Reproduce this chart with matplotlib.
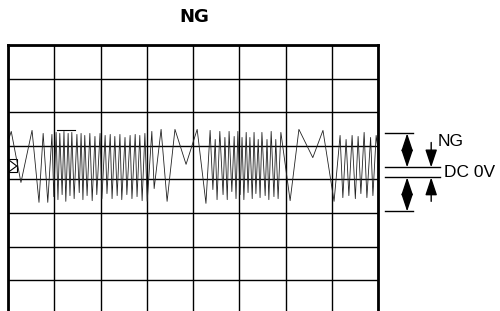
import matplotlib
matplotlib.use('Agg')
import matplotlib.pyplot as plt
from matplotlib.patches import Rectangle

# trace, in grid divisions (x: 0..8, y: -4..4, 0 = centre line)
trace_x = [0.00, 0.07, 0.28, 0.52, 0.67, 0.76, 0.86, 0.95,
           0.99, 1.04, 1.08, 1.12, 1.17, 1.21, 1.25, 1.30, 1.34, 1.38, 1.43, 1.49,
           1.54, 1.58, 1.62, 1.66, 1.71, 1.77, 1.82, 1.88, 1.92, 1.99, 2.03, 2.10,
           2.14, 2.21, 2.25, 2.31, 2.36, 2.42, 2.46, 2.53, 2.57, 2.64, 2.68, 2.75,
           2.79, 2.85, 2.90, 2.96, 3.01, 3.11, 3.16, 3.31, 3.44, 3.61, 3.85, 4.09,
           4.28, 4.37, 4.43, 4.48, 4.52, 4.58, 4.65, 4.69, 4.74, 4.78, 4.84, 4.89,
           4.93, 4.97, 5.02, 5.06, 5.10, 5.15, 5.19, 5.23, 5.28, 5.32, 5.36, 5.41,
           5.45, 5.49, 5.56, 5.60, 5.64, 5.69, 5.75, 5.79, 5.84, 5.90, 6.10,
           6.29, 6.59, 6.81, 7.05, 7.18, 7.24, 7.31, 7.37, 7.44, 7.51, 7.57, 7.63,
           7.70, 7.76, 7.84, 7.89, 7.96, 8.00]
trace_y = [1.13, 1.43, -0.09, 1.46, -0.68, 1.37, -0.68, 1.34,
           -0.51, 1.40, -0.60, 1.37, -0.45, 1.43, -0.65, 1.37, -0.48, 1.40, -0.57, 1.34,
           -0.39, 1.37, -0.60, 1.31, -0.48, 1.37, -0.63, 1.28, -0.45, 1.37, -0.57, 1.31,
           -0.42, 1.34, -0.57, 1.28, -0.48, 1.34, -0.60, 1.25, -0.45, 1.31, -0.57, 1.34,
           -0.51, 1.31, -0.63, 1.37, -0.65, 1.43, -0.27, 1.49, -0.65, 1.49, 0.45, 1.49,
           -0.71, 1.46, -0.30, 1.19, -0.60, 1.43, -0.45, 1.25, -0.60, 1.43, -0.36, 1.28,
           -0.57, 1.43, -0.45, 1.25, -0.60, 1.40, -0.39, 1.25, -0.57, 1.40, -0.42, 1.19,
           -0.54, 1.40, -0.48, 1.19, -0.60, 1.43, -0.51, 1.19, -0.57, 1.40, -0.63,
           1.49, 0.65, 1.46, -0.65, 1.31, -0.54, 1.19, -0.48, 1.31, -0.57, 1.28, -0.42,
           1.40, -0.54, 1.25, -0.48, 1.31, 0.89]

# levels marked on the right
ng_top = 1.37
dc_hi = 0.36
dc_lo = 0.06
ng_bot = -0.95

fig = plt.figure(figsize=(5, 3.11), dpi=100)
ax = fig.add_axes([0.016, -0.0096, 0.74, 0.865])

ax.plot(trace_x, trace_y, color='#222222', linewidth=0.6)
ax.plot([1.06, 1.45], [1.46, 1.46], color='black', linewidth=0.8)

# ground marker at the left edge
ax.add_patch(Rectangle((0, 0.21), 0.19, 0.39, fill=False, edgecolor='black', linewidth=0.8))
ax.plot([0, 0.19, 0], [0.6, 0.4, 0.21], color='black', linewidth=0.8)

ax.set_xlim(0, 8)
ax.set_ylim(-4, 4)
ax.set_xticks(range(9))
ax.set_yticks(range(-4, 5))
ax.grid(True, color='black', linewidth=1.0)
ax.tick_params(length=0, labelbottom=False, labelleft=False)
for s in ax.spines.values():
    s.set_linewidth(2)
    s.set_color('black')

# annotation on the right side
kw = dict(color='black', linewidth=1.0, clip_on=False)
ax.plot([8.15, 8.76], [ng_top, ng_top], **kw)
ax.plot([8.15, 9.34], [dc_hi, dc_hi], **kw)
ax.plot([8.15, 9.34], [dc_lo, dc_lo], **kw)
ax.plot([8.15, 8.76], [ng_bot, ng_bot], **kw)

arr2 = dict(arrowstyle='<|-|>,head_length=0.9,head_width=0.3', color='black', lw=1.0,
            mutation_scale=12, shrinkA=0, shrinkB=0)
arr1 = dict(arrowstyle='-|>,head_length=0.9,head_width=0.3', color='black', lw=1.0,
            mutation_scale=12, shrinkA=0, shrinkB=0)
ax.annotate('', xy=(8.63, ng_top), xytext=(8.63, dc_hi), arrowprops=arr2, annotation_clip=False)
ax.annotate('', xy=(8.63, dc_lo), xytext=(8.63, ng_bot), arrowprops=arr2, annotation_clip=False)
ax.annotate('', xy=(9.15, dc_hi), xytext=(9.15, 1.10), arrowprops=arr1, annotation_clip=False)
ax.annotate('', xy=(9.15, dc_lo), xytext=(9.15, -0.65), arrowprops=arr1, annotation_clip=False)

ax.text(9.28, 1.13, 'NG', fontsize=12.5, family='Liberation Sans', va='center', ha='left', clip_on=False)
ax.text(9.42, 0.21, 'DC 0V', fontsize=12.5, family='Liberation Sans', va='center', ha='left', clip_on=False)

fig.text(0.388, 0.946, 'NG', fontsize=13, fontweight='heavy', family='DejaVu Sans',
         ha='center', va='center')

fig.savefig('out.png', dpi=100)
